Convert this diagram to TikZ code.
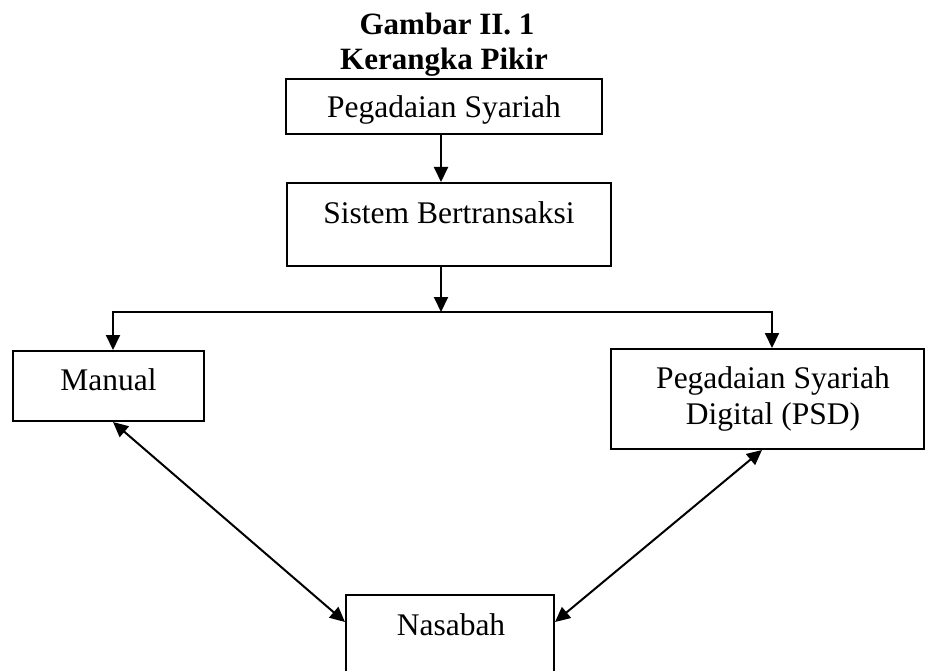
\documentclass[tikz,border=0pt]{standalone}
\usepackage{fontspec}
\setmainfont{Liberation Serif}
\usetikzlibrary{arrows.meta}
\begin{document}
\begin{tikzpicture}[x=1pt,y=-1pt,
  box/.style={draw,line width=2pt,inner sep=0pt},
  txt/.style={font=\fontsize{31.5}{36}\selectfont, inner sep=0pt, anchor=base},
  ttl/.style={font=\fontsize{31}{35}\selectfont\bfseries, inner sep=0pt, anchor=base},
  arr/.style={line width=2pt,-{Triangle[length=15pt,width=14pt]}},
  darr/.style={line width=2pt,{Triangle[length=15pt,width=14pt]}-{Triangle[length=15pt,width=14pt]}}]
\fill[white] (0,0) rectangle (928,671);
\useasboundingbox (0,0) rectangle (928,671);
\clip (0,0) rectangle (928,671);
% title
\node[ttl] (t1) at (447,35) {Gambar II. 1};
\node[ttl] (t2) at (444,70) {Kerangka Pikir};
% boxes
\node[box,minimum width=316pt,minimum height=55pt] (b1) at (444,106.5) {};
\node[box,minimum width=324pt,minimum height=83pt] (b2) at (449,224.5) {};
\node[box,minimum width=191pt,minimum height=70pt] (b3) at (108.5,386) {};
\node[box,minimum width=313pt,minimum height=100pt] (b4) at (767.5,399) {};
\node[box,minimum width=208pt,minimum height=105pt] (b5) at (450,647.5) {};
% texts
\node[txt] (b1t) at (444,118) {Pegadaian Syariah};
\node[txt] (b2t) at (449,223) {Sistem Bertransaksi};
\node[txt] (b3t) at (108.5,390) {Manual};
\node[txt] (b4t1) at (773,388) {Pegadaian Syariah};
\node[txt] (b4t2) at (773,424) {Digital (PSD)};
\node[txt] (b5t) at (451,635) {Nasabah};
% connectors
\coordinate (x1) at (441,0);
\coordinate (j) at (441,312);
\coordinate (jl) at (113,312);
\coordinate (jr) at (772,312);
\coordinate (p1) at (113,0);
\coordinate (p2) at (0,622);
\coordinate (p3) at (762,0);
\draw[arr] (b1.south -| x1) -- (b2.north -| x1);
\draw[arr] (b2.south -| j) -- (j);
\draw[arr] (j) -| (jl |- b3.north);
\draw[arr] (j) -| (jr |- b4.north);
\draw[darr] (b3.south -| p1) -- (b5.west |- p2);
\draw[darr] (b4.south -| p3) -- (b5.east |- p2);
\end{tikzpicture}
\end{document}
